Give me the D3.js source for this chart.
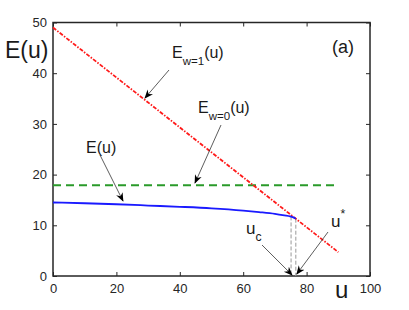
<!DOCTYPE html>
<html><head><meta charset="utf-8">
<script src="https://cdn.jsdelivr.net/npm/d3@7"></script>
<style>body{margin:0;background:#fff}svg{display:block;font-family:"Liberation Sans",Arial,sans-serif}</style>
</head><body><svg id="c" width="409" height="310"></svg>
<script>
const xTicks=[0,20,40,60,80,100];
const yTicks=[0,10,20,30,40,50];
const redU=[0,90];
const redE=[49,4.7];
const greenU=[0,89];
const greenE=[17.9,17.9];
const blueU=[0,10,20,30,40,50,60,65,70,73,74.8,75.8,76.6];
const blueE=[14.5,14.35,14.15,13.9,13.65,13.35,12.9,12.6,12.25,11.95,11.75,11.55,11.3];
const uc=75.1, ustar=76.6, Ec=11.75, Estar=11.3;

const svg=d3.select("#c");
const L=53,R=370,T=22.5,B=276;
const x=d3.scaleLinear().domain([0,100]).range([L,R]);
const y=d3.scaleLinear().domain([0,50]).range([B,T]);
const axCol="#262626";

const gx=svg.append("g").attr("transform",`translate(0,${B})`).call(d3.axisBottom(x).tickValues(xTicks).tickSizeInner(-4).tickSizeOuter(0).tickPadding(8));
const gy=svg.append("g").attr("transform",`translate(${L},0)`).call(d3.axisLeft(y).tickValues(yTicks).tickSizeInner(-4).tickSizeOuter(0).tickPadding(6));
const gt=svg.append("g").attr("transform",`translate(0,${T})`).call(d3.axisTop(x).tickValues(xTicks).tickSizeInner(-4).tickSizeOuter(0).tickFormat(""));
const gr=svg.append("g").attr("transform",`translate(${R},0)`).call(d3.axisRight(y).tickValues(yTicks).tickSizeInner(-4).tickSizeOuter(0).tickFormat(""));
[gx,gy,gt,gr].forEach(g=>{g.select(".domain").remove();g.selectAll("line").attr("stroke",axCol);g.selectAll("text").attr("fill",axCol).attr("font-size",13).attr("font-family","Liberation Sans, Arial, sans-serif");});
svg.append("rect").attr("x",L).attr("y",T).attr("width",R-L).attr("height",B-T).attr("fill","none").attr("stroke",axCol).attr("stroke-width",1.5);

svg.append("defs").append("marker").attr("id","ah").attr("viewBox","0 0 10 10").attr("refX",9).attr("refY",5)
 .attr("markerWidth",9).attr("markerHeight",9).attr("markerUnits","userSpaceOnUse").attr("orient","auto")
 .append("path").attr("d","M0,1 L10,5 L0,9 L3,5 Z").attr("fill","#000");

const line=d3.line().x(d=>x(d[0])).y(d=>y(d[1]));
[[uc,Ec],[ustar,Estar]].forEach(p=>{
 svg.append("line").attr("x1",x(p[0])).attr("x2",x(p[0])).attr("y1",y(p[1])).attr("y2",y(0))
 .attr("stroke","#999").attr("stroke-width",1).attr("stroke-dasharray","4,2");
});
svg.append("path").attr("d",line(greenU.map((u,i)=>[u,greenE[i]]))).attr("fill","none").attr("stroke","#2a9a2a").attr("stroke-width",1.8).attr("stroke-dasharray","8,5");
svg.append("path").attr("d",line(redU.map((u,i)=>[u,redE[i]]))).attr("fill","none").attr("stroke","#ff1a1a").attr("stroke-width",1.8).attr("stroke-dasharray","4,1.5,1.5,1.5");
svg.append("path").attr("d",d3.line().x(d=>x(d[0])).y(d=>y(d[1])).curve(d3.curveMonotoneX)(blueU.map((u,i)=>[u,blueE[i]]))).attr("fill","none").attr("stroke","#1a1aff").attr("stroke-width",1.8);

function arrow(x1,y1,x2,y2){svg.append("line").attr("x1",x1).attr("y1",y1).attr("x2",x2).attr("y2",y2).attr("stroke","#333").attr("stroke-width",0.8).attr("marker-end","url(#ah)");}
arrow(169,70,145,98);
arrow(221,125,195,183);
arrow(100,155,123,201);
arrow(262,245,x(uc)+1,275);
arrow(328,232,x(ustar)+1,274);

function sub(xp,yp,main,s,tail,fs,sup){
 const t=svg.append("text").attr("x",xp).attr("y",yp).attr("font-size",fs).attr("fill","#1a1a1a");
 t.append("tspan").text(main);
 if(s){t.append("tspan").attr("font-size",fs*0.72).attr("dy",sup?-fs*0.55:fs*0.42).text(s);}
 if(tail){t.append("tspan").attr("font-size",fs).attr("dy",sup?fs*0.55:-fs*0.42).text(tail);}
}
sub(172,58,"E","w=1","(u)",16);
sub(198,113,"E","w=0","(u)",16);
sub(86,153,"E(u)",null,null,16);
sub(246,234,"u","c",null,17);
sub(331,227,"u","*",null,17,true);

svg.append("text").attr("x",5).attr("y",58).attr("font-size",23).attr("fill","#1a1a1a").text("E(u)");
svg.append("text").attr("x",335).attr("y",298).attr("font-size",24).attr("fill","#1a1a1a").text("u");
svg.append("text").attr("x",332).attr("y",53).attr("font-size",18).attr("fill","#1a1a1a").text("(a)");
</script></body></html>
